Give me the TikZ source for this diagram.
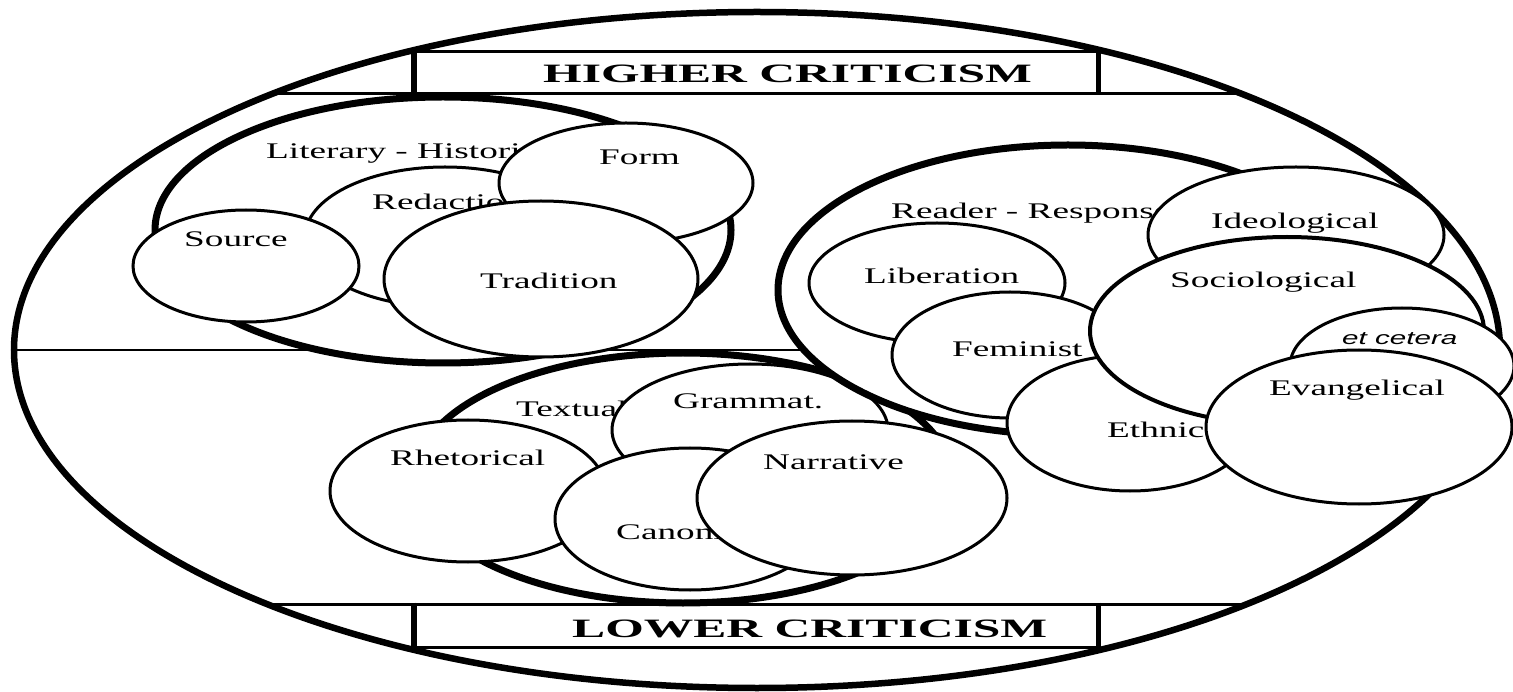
\documentclass[tikz,border=0pt]{standalone}
\usepackage{fontspec}
\setmainfont{Liberation Serif}[FakeStretch=1.67]
\newfontfamily\headfont{Liberation Serif}[FakeStretch=1.87]
\newfontfamily\etcfont{Liberation Sans}[FakeStretch=1.6]
\usetikzlibrary{shapes.geometric}
\tikzset{
  outerell/.style={draw, ellipse, line width=6.5pt, fill=white, inner sep=0pt},
  grp/.style={draw, ellipse, line width=7pt, fill=white, inner sep=0pt},
  sub/.style={draw, ellipse, line width=3pt, fill=white, inner sep=0pt},
  subthick/.style={sub, line width=4pt},
  lbl/.style={anchor=base west, inner sep=0pt, font=\fontsize{22.3}{26}\selectfont},
  head/.style={anchor=base west, inner sep=0pt, font=\headfont\fontsize{26.5}{30}\selectfont\bfseries},
  midline/.style={line width=2.4pt},
  band/.style={line width=3pt},
  boxn/.style={draw, line width=3pt, inner sep=0pt},
  post/.style={line width=5.5pt},
}
\begin{document}
\begin{tikzpicture}[x=1pt,y=-1pt]
\useasboundingbox (0,0) rectangle (1513,692);
\clip (0,0) rectangle (1513,692);
% outer frame
\node[outerell, minimum width=1486pt, minimum height=676pt] (outer) at (757,350) {};
\begin{scope}
  \clip (757,350) ellipse [x radius=743, y radius=338];
  \draw[midline] (0,350) -- (1513,350);
  \draw[band] (0,94) -- (1513,94);
  \draw[band] (0,604) -- (1513,604);
\end{scope}
% header boxes
\node[boxn, minimum width=682pt, minimum height=42pt] (hbox) at (756,73) {};
\draw[post] (hbox.north west) -- (hbox.south west);
\draw[post] (hbox.north east) -- (hbox.south east);
\node[head] (htext) at (543,83) {HIGHER CRITICISM};
\node[boxn, minimum width=682pt, minimum height=43pt] (lbox) at (756,625.5) {};
\draw[post] (lbox.north west) -- (lbox.south west);
\draw[post] (lbox.north east) -- (lbox.south east);
\node[head] (ltext) at (572,637) {LOWER CRITICISM};

% Literary - Historical group
\node[grp, minimum width=576pt, minimum height=266pt] (lit) at (443,230) {};
\node[lbl] (tlit) at (266,159) {Literary - Historical};
\node[sub, minimum width=280pt, minimum height=140pt] (red) at (445,237) {};
\node[lbl] (tred) at (372,210) {Redaction};
\node[sub, minimum width=226pt, minimum height=112pt] (src) at (246,266) {};
\node[lbl] (tsrc) at (184,247) {Source};
\node[sub, minimum width=254pt, minimum height=120pt] (form) at (626,183) {};
\node[lbl] (tform) at (599,165) {Form};
\node[sub, minimum width=314pt, minimum height=156pt] (trad) at (541,279) {};
\node[lbl] (ttrad) at (480,289) {Tradition};

% Textual group
\node[grp, minimum width=536pt, minimum height=250pt] (text) at (683,478) {};
\node[lbl] (ttext) at (516,417) {Textual};
\node[sub, minimum width=276pt, minimum height=132pt] (gram) at (750,430) {};
\node[lbl] (tgram) at (673,409) {Grammat.};
\node[sub, minimum width=276pt, minimum height=142pt] (rhet) at (468,491) {};
\node[lbl] (trhet) at (390,465) {Rhetorical};
\node[sub, minimum width=270pt, minimum height=142pt] (canon) at (690,519) {};
\node[lbl] (tcanon) at (616,539) {Canonical};
\node[sub, minimum width=310pt, minimum height=154pt] (narr) at (852,498) {};
\node[lbl] (tnarr) at (763,469) {Narrative};

% Reader - Response group
\node[grp, minimum width=580pt, minimum height=290pt] (read) at (1068,290) {};
\node[lbl] (tread) at (891,219) {Reader - Response};
\node[sub, minimum width=256pt, minimum height=120pt] (lib) at (937,283) {};
\node[lbl] (tlib) at (864,284) {Liberation};
\node[sub, minimum width=236pt, minimum height=126pt] (fem) at (1010,355) {};
\node[lbl] (tfem) at (952,357) {Feminist};
\node[sub, minimum width=246pt, minimum height=136pt] (eth) at (1130,423) {};
\node[lbl] (teth) at (1107,438) {Ethnic};
\node[sub, minimum width=296pt, minimum height=136pt] (ideo) at (1296,235) {};
\node[lbl] (tideo) at (1211,229) {Ideological};
\node[subthick, minimum width=394pt, minimum height=188pt] (soc) at (1287,331) {};
\node[lbl] (tsoc) at (1170,288) {Sociological};
\node[sub, minimum width=224pt, minimum height=116pt] (etc) at (1402,366) {};
\node[lbl, font=\etcfont\fontsize{18.5}{22}\selectfont\itshape] (tetc) at (1342,345) {et cetera};
\node[sub, minimum width=306pt, minimum height=154pt] (evan) at (1359,427) {};
\node[lbl] (tevan) at (1269,396) {Evangelical};
\end{tikzpicture}
\end{document}
